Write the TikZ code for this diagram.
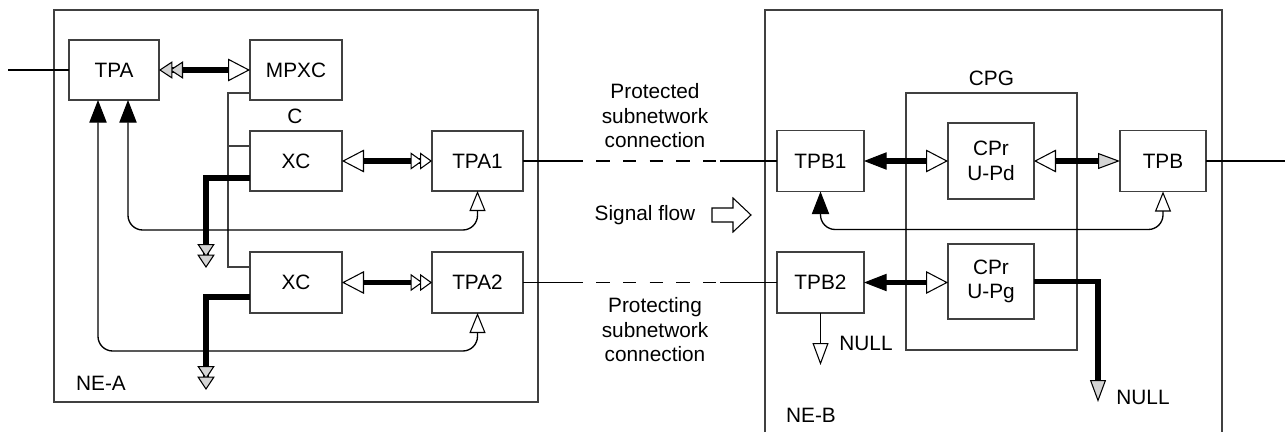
\documentclass[tikz,border=0pt]{standalone}
\usepackage{fontspec}
\setmainfont{Liberation Sans}
\usetikzlibrary{arrows.meta,calc}
\definecolor{lgray}{HTML}{D4D4D4}
\definecolor{boxc}{HTML}{404040}
\newcommand\myfs{\fontsize{15.6pt}{18.4pt}\selectfont}
\tikzset{
  TW/.tip={Triangle[fill=white,length=16.5pt,width=17pt,line width=0.8pt]},
  TB/.tip={Triangle[length=17pt,width=13pt,line width=0.8pt]},
  TWs/.tip={Triangle[fill=white,length=15pt,width=12pt,line width=0.8pt]},
  TWn/.tip={Triangle[fill=white,length=16.5pt,width=12pt,line width=0.8pt]},
  TG/.tip={Triangle[fill=lgray,length=16.5pt,width=12pt,line width=0.8pt]},
  TGG/.tip={Triangle[fill=lgray,length=10pt,width=13pt,line width=0.8pt,sep=-2pt] Triangle[fill=lgray,length=10pt,width=13pt,line width=0.8pt]},
  TWW/.tip={Triangle[fill=white,length=9pt,width=12.75pt,line width=0.8pt,sep=-2pt] Triangle[fill=white,length=9pt,width=12.75pt,line width=0.8pt]},
  box/.style={draw=boxc, line width=0.8pt, inner sep=0pt, outer sep=0pt, align=center, font=\myfs},
  lbl/.style={inner sep=0pt, align=center, font=\myfs},
  thn/.style={line width=1pt},
  thk/.style={line width=3.8pt},
  link/.style={draw=boxc, line width=0.8pt},
  dsh/.style={line width=1pt, dash pattern=on 10pt off 10pt, dash phase=10pt},
}
\begin{document}
\begin{tikzpicture}[x=0.75pt,y=-0.75pt]
\useasboundingbox (0,0) rectangle (1285,432);
% containers
\node[box, minimum width=363pt, minimum height=294pt] (NEA) at (296,206) {};
\draw[link] (765,432) -- (765,10) -- (1222,10) -- (1222,432);
\node[box, minimum width=128.25pt, minimum height=192.75pt] (CPG) at (991.5,221.5) {};
% blocks NE-A
\node[box, minimum width=67.5pt, minimum height=45pt] (TPA) at (114,70) {TPA};
\node[box, minimum width=69pt, minimum height=45pt] (MPXC) at (296,70) {MPXC};
\node[box, minimum width=69pt, minimum height=45pt] (XC1) at (296,161) {XC};
\node[box, minimum width=68.25pt, minimum height=45pt] (TPA1) at (477.5,161) {TPA1};
\node[box, minimum width=69pt, minimum height=45.75pt] (XC2) at (296,282.5) {XC};
\node[box, minimum width=68.25pt, minimum height=45.75pt] (TPA2) at (477.5,282.5) {TPA2};
% blocks NE-B
\node[box, minimum width=65.25pt, minimum height=45.75pt] (TPB1) at (820.5,161) {TPB1};
\node[box, minimum width=64.5pt, minimum height=45.75pt] (TPB) at (1163,161) {TPB};
\node[box, minimum width=65.25pt, minimum height=45.75pt] (TPB2) at (820.5,282.5) {TPB2};
\node[box, minimum width=64.5pt, minimum height=57pt] (UPd) at (991,161) {CPr\\U-Pd};
\node[box, minimum width=64.5pt, minimum height=56.25pt] (UPg) at (991,281.5) {CPr\\U-Pg};
% labels
\node[lbl] (lC) at (295,116) {C};
\node[lbl] (lCPG) at (991.5,78) {CPG};
\node[lbl] (lNEA) at (101,383) {NE-A};
\node[lbl] (lNEB) at (811,415) {NE-B};
\node[lbl] (lN1) at (866,343) {NULL};
\node[lbl] (lN2) at (1143,397) {NULL};
\node[lbl] (lPd) at (655,116) {Protected\\subnetwork\\connection};
\node[lbl] (lPg) at (655,330) {Protecting\\subnetwork\\connection};
\node[lbl] (lsf) at (645,215) {Signal flow};
\draw[line width=0.8pt] (712,208) -- (733,208) -- (733,198) -- (751,215) -- (733,232) -- (733,222) -- (712,222) -- cycle;
% coordinates
\coordinate (inA) at (8,70);
\coordinate (outB) at (1285,161);
\coordinate (g1) at (206,268);
\coordinate (g2) at (206,390);
\coordinate (d1a) at (583,161);
\coordinate (d1b) at (720,161);
\coordinate (d2a) at (583,282.5);
\coordinate (d2b) at (720,282.5);
\coordinate (n1) at (820.5,365);
\coordinate (n2) at (1098,402);
% connectors NE-A
\draw[thn] (inA) -- (TPA);
\draw[thk, TGG-TW] (TPA) -- (MPXC);
\draw[thk, TW-TWW] (XC1) -- (TPA1);
\draw[thk, TW-TWW] (XC2) -- (TPA2);
\draw[link] ($(MPXC.west)+(0,23)$) -- ++(-22,0) |- ($(XC2.west)+(0,-15.5)$);
\draw[link] ($(XC1.west)+(-22,-15)$) -- ($(XC1.west)+(0,-15)$);
\draw[thn, rounded corners=11pt, TB-TWs] ($(TPA.south)+(14,0)$) |- ($(TPA1.south)+(0,39)$) -- (TPA1.south);
\draw[thn, rounded corners=11pt, TB-TWs] ($(TPA.south)+(-16,0)$) |- ($(TPA2.south)+(0,38)$) -- (TPA2.south);
\draw[thk, -TGG] ($(XC1.west)+(0,17)$) -| (g1);
\draw[thk, -TGG] ($(XC2.west)+(0,14.5)$) -| (g2);
% subnetwork connections
\draw[thn] (TPA1) -- (d1a);
\draw[dsh] (d1a) -- (d1b);
\draw[thn] (d1b) -- (TPB1);
\draw[thn] (TPA2) -- (d2a);
\draw[dsh] (d2a) -- (d2b);
\draw[thn] (d2b) -- (TPB2);
% connectors NE-B
\draw[thk, TB-TW] (TPB1) -- (UPd);
\draw[thk, TW-TG] (UPd) -- (TPB);
\draw[thn] (TPB) -- (outB);
\draw[thn, rounded corners=11pt, TB-TWs] (TPB1.south) |- ($(TPB.south)+(0,38)$) -- (TPB.south);
\draw[thk, TB-TW] (TPB2.east) -- (TPB2.east -| UPg.west);
\draw[thk, -TG] (UPg.east) -| (n2);
\draw[thn, -TWn] (TPB2.south) -- (n1);
\end{tikzpicture}
\end{document}
